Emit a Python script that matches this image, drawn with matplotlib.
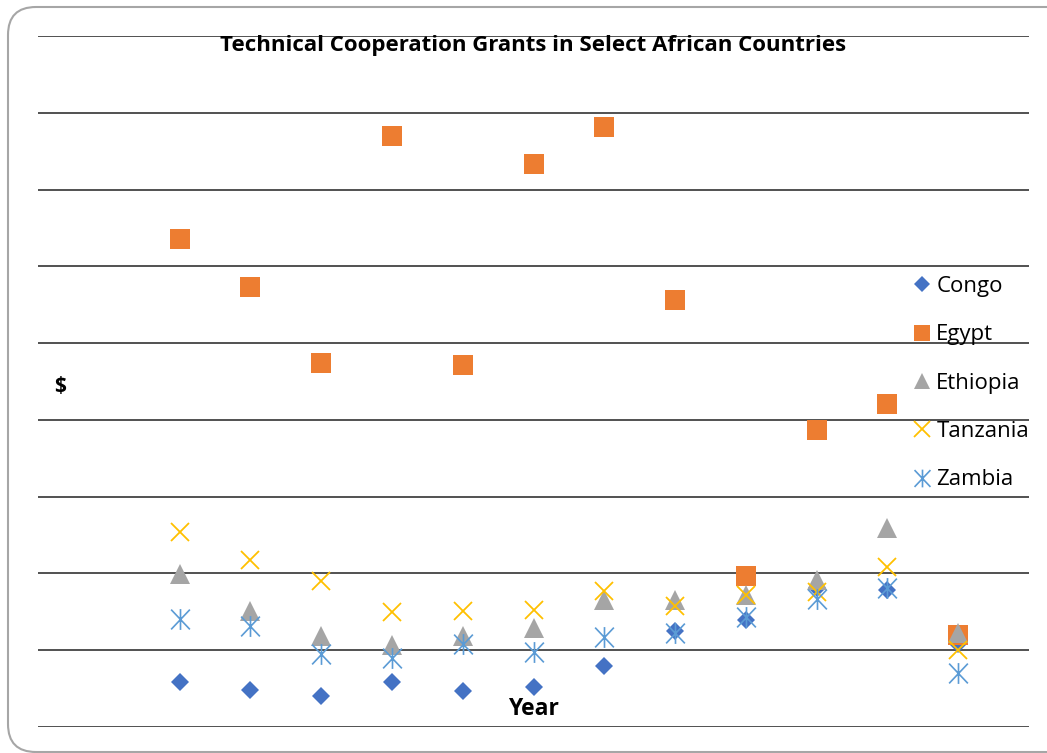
import matplotlib
matplotlib.use("Agg")
import matplotlib.pyplot as plt
import matplotlib.patches as mpatches
from matplotlib.path import Path
from matplotlib.transforms import IdentityTransform

plt.rcParams['font.family'] = ['Open Sans', 'DejaVu Sans']

# Data (values in grid units; the axis has no tick labels)
years = [1, 2, 3, 4, 5, 6, 7, 8, 9, 10, 11, 12]
congo = [0.59, 0.48, 0.40, 0.59, 0.47, 0.52, 0.79, 1.25, 1.39, 1.81, 1.78, 1.08]
egypt = [6.35, 5.73, 4.74, 7.70, 4.71, 7.33, 7.81, 5.56, 1.97, 3.87, 4.21, 1.20]
ethiopia = [1.99, 1.51, 1.18, 1.07, 1.18, 1.29, 1.65, 1.65, 1.72, 1.91, 2.59, 1.22]
tanzania = [2.54, 2.17, 1.90, 1.50, 1.51, 1.52, 1.77, 1.58, 1.72, 1.76, 2.08, 1.00]
zambia = [1.41, 1.32, 0.95, 0.90, 1.08, 0.98, 1.17, 1.22, 1.43, 1.67, 1.81, 0.70]
series_names = ["Congo", "Egypt", "Ethiopia", "Tanzania", "Zambia"]

# Excel-like star marker: vertical line plus X
dx, dy = 0.9, 0.95
star = Path([(0, -1), (0, 1), (-dx, -dy), (dx, dy), (-dx, dy), (dx, -dy)],
            [Path.MOVETO, Path.LINETO, Path.MOVETO, Path.LINETO, Path.MOVETO, Path.LINETO])

fig = plt.figure(figsize=(10.47, 7.53), dpi=100)
ax = fig.add_axes([38/1047, 26/753, (1029-38)/1047, (727-36)/753])

styles = [
    dict(marker='D', color='#4472C4', ms=9.5, mew=0),
    dict(marker='s', color='#ED7D31', ms=14, mew=0),
    dict(marker='^', color='#A5A5A5', ms=14, mew=0),
    dict(marker='x', color='#FFC000', ms=13.5, mew=1.3),
    dict(marker=star, color='#5B9BD5', ms=15, mew=1.2),
]
data = [congo, egypt, ethiopia, tanzania, zambia]
for name, vals, st in zip(series_names, data, styles):
    ax.plot(years, vals, linestyle='none', label=name, marker=st['marker'],
            markersize=st['ms'], color=st['color'], markeredgewidth=st['mew'])

ax.set_xlim(-1, 13)
ax.set_ylim(0, 9)
ax.set_yticks(range(0, 10))
ax.set_xticks([])
ax.tick_params(axis='y', length=0, labelleft=False)
ax.yaxis.grid(True, color='#333333', linewidth=1.2)
ax.set_axisbelow(True)
for s in ax.spines.values():
    s.set_visible(False)
ax.patch.set_alpha(0)

fig.text(533/1047, 1 - 45/753, "Technical Cooperation Grants in Select African Countries",
         ha='center', va='center', fontsize=16, fontweight='bold', color='black')
fig.text(60/1047, 1 - 386/753, "$", ha='center', va='center', fontsize=15,
         fontweight='bold')
fig.text(533/1047, 1 - 709/753, "Year", ha='center', va='center', fontsize=16.5,
         fontweight='bold')

leg = ax.legend(loc='upper left', bbox_to_anchor=((913-38)/991, 1 - (276-36)/691),
                frameon=False, fontsize=16, handlelength=0.8, handletextpad=0.25,
                labelspacing=1.23, markerscale=0.85, borderaxespad=0, borderpad=0)

border = mpatches.FancyBboxPatch((8, 1), 1100, 745,
                                 boxstyle="round,pad=0,rounding_size=28",
                                 transform=IdentityTransform(), facecolor='none',
                                 edgecolor='#a6a6a6', linewidth=1.5)
fig.patches.append(border)

fig.savefig("out.png", dpi=100)
